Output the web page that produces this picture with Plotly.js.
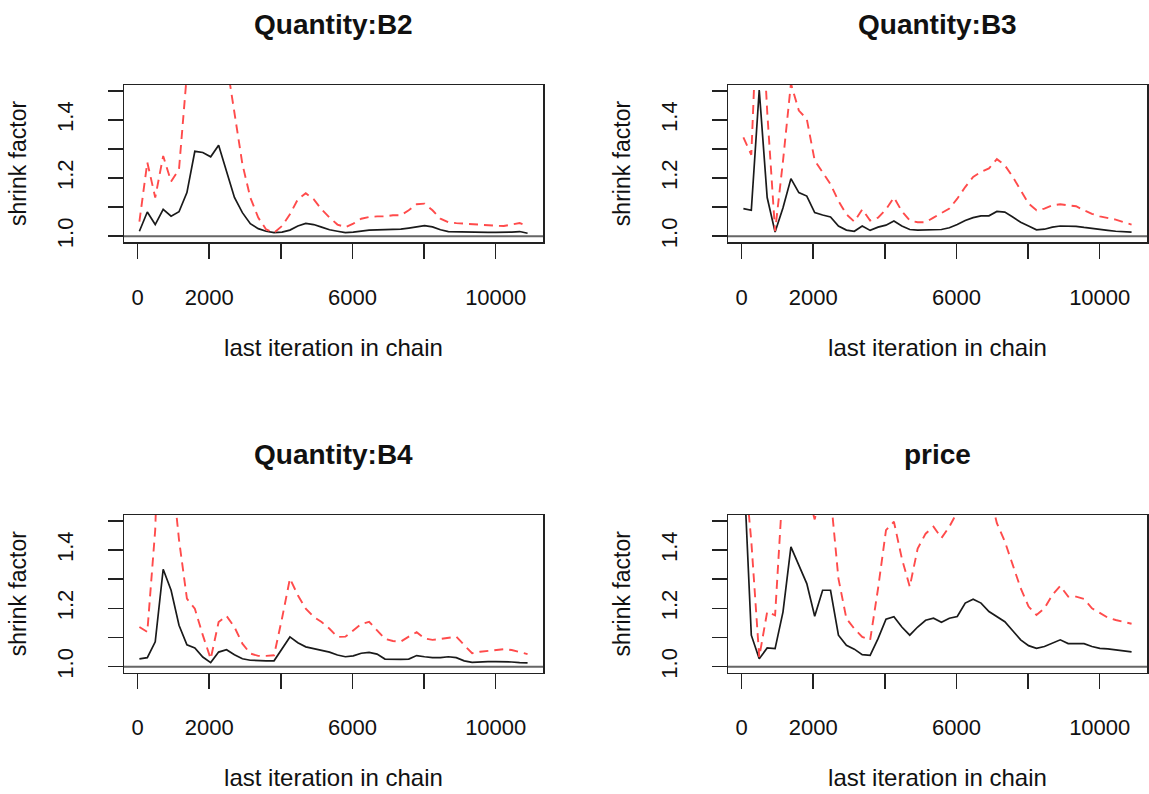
<!DOCTYPE html>
<html>
<head>
<meta charset="utf-8">
<script src="https://cdn.plot.ly/plotly-3.0.1.min.js"></script>
<style>
html,body{margin:0;padding:0;background:#fff;}
#chart{width:1149px;height:794px;}
</style>
</head>
<body>
<div id="chart"></div>
<script>
// last iteration in chain (bin ends)
const iterations = [50, 271, 492, 714, 935, 1156, 1377, 1598, 1820, 2041, 2262, 2483, 2704, 2926, 3147, 3368, 3589, 3810, 4032, 4253, 4474, 4695, 4916, 5138, 5359, 5580, 5801, 6022, 6244, 6465, 6686, 6907, 7128, 7350, 7571, 7792, 8013, 8234, 8456, 8677, 8898, 9119, 9340, 9562, 9783, 10004, 10225, 10446, 10668, 10889];

const panelTitles = ["Quantity:B2", "Quantity:B3", "Quantity:B4", "price"];

// median shrink factor (solid black)
const medianB2 = [1.017,1.083,1.040,1.092,1.069,1.084,1.150,1.292,1.288,1.273,
  1.313,1.225,1.133,1.081,1.043,1.026,1.017,1.012,1.014,1.021,
  1.035,1.044,1.040,1.031,1.022,1.017,1.012,1.014,1.018,1.021,
  1.022,1.022,1.022,1.024,1.028,1.033,1.036,1.032,1.022,1.016,
  1.015,1.015,1.014,1.013,1.013,1.013,1.013,1.014,1.016,1.010];
// 97.5% quantile (dashed red)
const upperB2 = [1.050,1.254,1.133,1.276,1.188,1.230,1.560,1.900,2.100,2.000,
  1.900,1.600,1.432,1.248,1.133,1.064,1.023,1.012,1.035,1.075,
  1.127,1.148,1.127,1.092,1.064,1.040,1.031,1.043,1.060,1.066,
  1.068,1.068,1.072,1.072,1.089,1.110,1.112,1.089,1.060,1.048,
  1.045,1.043,1.040,1.039,1.038,1.036,1.035,1.040,1.045,1.035];

const medianB3 = [1.095,1.089,1.503,1.133,1.014,1.098,1.198,1.150,1.138,1.081,
  1.073,1.066,1.035,1.021,1.017,1.035,1.020,1.031,1.038,1.052,
  1.035,1.023,1.021,1.021,1.023,1.023,1.029,1.040,1.054,1.064,
  1.070,1.070,1.085,1.083,1.066,1.048,1.035,1.022,1.024,1.031,
  1.035,1.035,1.034,1.030,1.026,1.022,1.020,1.017,1.015,1.014];
const upperB3 = [1.340,1.280,1.950,1.430,1.017,1.259,1.525,1.432,1.403,1.260,
  1.220,1.179,1.121,1.075,1.050,1.092,1.054,1.064,1.092,1.133,
  1.086,1.054,1.048,1.048,1.064,1.081,1.095,1.129,1.169,1.204,
  1.221,1.233,1.265,1.244,1.204,1.158,1.112,1.089,1.095,1.106,
  1.110,1.106,1.103,1.089,1.077,1.068,1.062,1.057,1.048,1.040];

const medianB4 = [1.027,1.031,1.085,1.334,1.262,1.142,1.075,1.064,1.033,1.014,
  1.050,1.058,1.041,1.027,1.022,1.020,1.020,1.020,1.062,1.102,
  1.082,1.068,1.062,1.056,1.050,1.040,1.034,1.037,1.046,1.049,
  1.043,1.026,1.025,1.025,1.026,1.038,1.034,1.031,1.031,1.034,
  1.031,1.020,1.015,1.017,1.017,1.017,1.017,1.016,1.014,1.013];
const upperB4 = [1.136,1.119,1.470,2.300,1.700,1.435,1.233,1.199,1.108,1.027,
  1.153,1.174,1.136,1.079,1.045,1.037,1.037,1.039,1.165,1.302,
  1.245,1.199,1.171,1.153,1.130,1.102,1.103,1.126,1.146,1.154,
  1.126,1.095,1.088,1.086,1.103,1.118,1.097,1.092,1.095,1.100,
  1.103,1.074,1.046,1.051,1.054,1.057,1.060,1.057,1.049,1.043];

const medianPrice = [1.710,1.108,1.027,1.064,1.062,1.188,1.411,1.348,1.285,1.173,
  1.262,1.262,1.108,1.073,1.060,1.041,1.039,1.096,1.163,1.171,
  1.136,1.108,1.136,1.159,1.166,1.152,1.166,1.172,1.218,1.231,
  1.218,1.189,1.172,1.154,1.123,1.092,1.072,1.063,1.069,1.080,
  1.092,1.079,1.080,1.079,1.069,1.063,1.061,1.057,1.055,1.051];
const upperPrice = [1.730,1.430,1.033,1.188,1.176,1.630,1.800,1.700,1.600,1.505,
  1.620,1.590,1.302,1.165,1.130,1.102,1.091,1.268,1.468,1.497,
  1.371,1.274,1.405,1.456,1.480,1.441,1.480,1.530,1.600,1.650,
  1.650,1.600,1.492,1.429,1.349,1.269,1.206,1.177,1.200,1.246,
  1.277,1.240,1.240,1.232,1.200,1.183,1.168,1.160,1.154,1.147];

const xTickVals = [0, 2000, 4000, 6000, 8000, 10000];
const xTickText = ["0", "2000", "", "6000", "", "10000"];
const yTickVals = [1.0, 1.1, 1.2, 1.3, 1.4, 1.5];
const yTickText = ["1.0", "", "1.2", "", "1.4", ""];

const medians = [medianB2, medianB3, medianB4, medianPrice];
const uppers = [upperB2, upperB3, upperB4, upperPrice];

const W = 1149, H = 794;
const FONT = "Liberation Sans, Arial, Helvetica, sans-serif";
// plot boxes in pixels: [left, right, top, bottom]
const boxes = [[124, 543, 85, 242], [728, 1147, 85, 242], [124, 543, 515, 672.5], [728, 1147, 515, 672.5]];

const traces = [];
const layout = {
  width: W, height: H,
  margin: {l: 0, r: 0, t: 0, b: 0},
  paper_bgcolor: "#fff", plot_bgcolor: "#fff",
  showlegend: false,
  font: {family: FONT, color: "#111", size: 22},
  annotations: [], shapes: []
};

boxes.forEach((b, k) => {
  const n = k + 1;
  const xa = "x" + (n === 1 ? "" : n), ya = "y" + (n === 1 ? "" : n);
  traces.push({x: iterations, y: medians[k], type: "scatter", mode: "lines",
    xaxis: xa, yaxis: ya, line: {color: "#1a1a1a", width: 1.7}, hoverinfo: "skip"});
  traces.push({x: iterations, y: uppers[k], type: "scatter", mode: "lines",
    xaxis: xa, yaxis: ya, line: {color: "rgb(255,75,75)", width: 1.9, dash: "9px,6px"}, hoverinfo: "skip"});
  const xd = [b[0] / W, b[1] / W], yd = [1 - b[3] / H, 1 - b[2] / H];
  layout["xaxis" + (n === 1 ? "" : n)] = {
    domain: xd, anchor: ya, range: [-380, 11320],
    tickmode: "array", tickvals: xTickVals, ticktext: xTickText,
    ticks: "outside", ticklen: 15, tickwidth: 1.5, tickcolor: "#222",
    showline: true, mirror: true, linecolor: "#222", linewidth: 1.5,
    showgrid: false, zeroline: false,
    tickfont: {family: FONT, size: 22, color: "#111"}, ticklabelstandoff: 20,
    title: {text: "last iteration in chain", font: {family: FONT, size: 24, color: "#111"}, standoff: 30}
  };
  layout["yaxis" + (n === 1 ? "" : n)] = {
    domain: yd, anchor: xa, range: [0.98, 1.52],
    tickmode: "array", tickvals: yTickVals, ticktext: yTickText, tickangle: -90,
    ticks: "outside", ticklen: 15, tickwidth: 1.5, tickcolor: "#222",
    showline: true, mirror: true, linecolor: "#222", linewidth: 1.5,
    showgrid: false, zeroline: false,
    tickfont: {family: FONT, size: 22, color: "#111"}, ticklabelstandoff: 26,
    title: {text: "shrink factor", font: {family: FONT, size: 23, color: "#111"}, standoff: 19}
  };
  layout.shapes.push({type: "line", xref: xa + " domain", yref: ya, x0: 0, x1: 1, y0: 1, y1: 1,
    line: {color: "#666", width: 2}});
  layout.annotations.push({text: "<b>" + panelTitles[k] + "</b>", xref: "paper", yref: "paper",
    x: (xd[0] + xd[1]) / 2, y: 1 - (b[2] - 60) / H, xanchor: "center", yanchor: "middle",
    showarrow: false, font: {family: FONT, size: 28, color: "#111"}});
});

Plotly.newPlot("chart", traces, layout, {staticPlot: true, displayModeBar: false});
</script>
</body>
</html>
